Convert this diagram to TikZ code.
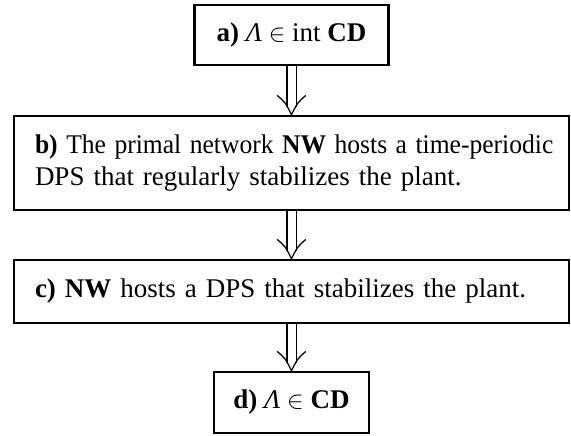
\documentclass[tikz,border=0pt]{standalone}
\usepackage{fontspec}
\usepackage{graphicx}
\setmainfont{Liberation Serif}
\usetikzlibrary{calc}
\begin{document}
\begin{tikzpicture}[x=1pt,y=1pt,
  stepbox/.style={draw, line width=2.6pt, rectangle, inner sep=0pt,
    font=\fontsize{27}{32}\selectfont},
  wideleft/.style={stepbox, minimum width=555pt, text width=513pt, inner xsep=21pt, align=left},
  shaft/.style={draw, line width=1.2pt, double, double distance=8pt},
  vhead/.style={draw, line width=1.3pt, line cap=round}
]
\useasboundingbox (0,0) rectangle (571,-436);
\node[stepbox, minimum width=194pt, minimum height=60pt] (a) at (291.5,-35)
  {\textbf{a)} \textit{Λ}~$\in$~int~\textbf{CD}};
\node[wideleft, minimum height=94pt] (b) at (291.5,-163)
  {\scalebox{0.947}[1]{\textbf{b)} The primal network \textbf{NW} hosts a time-periodic}\\
   DPS that regularly stabilizes the plant.};
\node[wideleft, minimum height=63pt] (c) at (291.5,-291.5)
  {\textbf{c) NW} hosts a DPS that stabilizes the plant.};
\node[stepbox, minimum width=155pt, minimum height=61pt] (d) at (291.5,-402.5)
  {\textbf{d)} \textit{Λ}~$\in$~\textbf{CD}};
\foreach \s/\t in {a/b, b/c, c/d}{
  \draw[shaft] (\s.south) -- ($(\t.north)+(0,8)$);
  \draw[vhead] ($(\t.north)+(-14,19)$) .. controls ($(\t.north)+(-6,12)$) .. (\t.north)
     .. controls ($(\t.north)+(6,12)$) .. ($(\t.north)+(14,19)$);
}
\end{tikzpicture}
\end{document}
